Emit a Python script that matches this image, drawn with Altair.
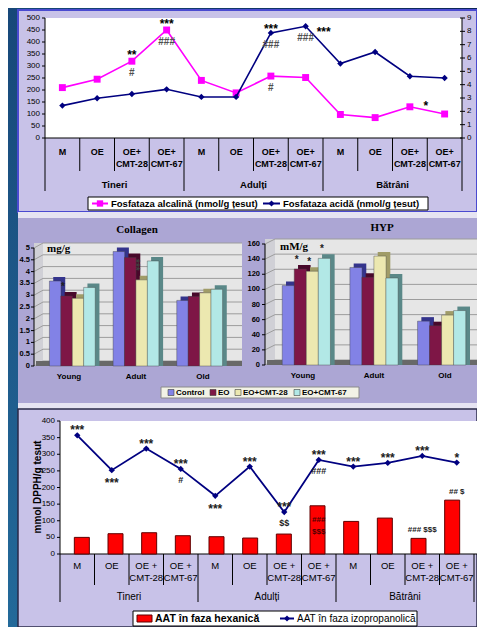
import altair as alt
import pandas as pd

# ================= DATA =================
# Panel 1 - Fosfataza alcalina / acida
top_categories = ["M", "OE", "OE+\nCMT-28", "OE+\nCMT-67"] * 3
top_groups = ["Tineri", "Adulți", "Bătrâni"]
alkaline = [210, 245, 320, 450, 240, 188, 258, 252, 98, 85, 130, 100]
acid = [2.43, 2.98, 3.3, 3.65, 3.08, 3.08, 7.88, 8.38, 5.58, 6.45, 4.63, 4.5]
top_left_ticks = [0, 50, 100, 150, 200, 250, 300, 350, 400, 450, 500]
top_right_ticks = [0, 1, 2, 3, 4, 5, 6, 7, 8, 9]
alk_above = {2: "**", 3: "***"}
alk_below = {2: "#", 3: "###", 6: "#"}
alk_right = {10: "*"}
acid_above = {6: "***"}
acid_below = {6: "###", 7: "###"}
acid_right = {7: "***"}

# Panel 2 - Collagen & HYP
age_groups = ["Young", "Adult", "Old"]
treatments = ["Control", "EO", "EO+CMT-28", "EO+CMT-67"]
collagen_control = [3.6, 4.85, 2.78]
collagen_eo = [2.97, 4.6, 2.95]
collagen_cmt28 = [2.87, 3.65, 3.1]
collagen_cmt67 = [3.33, 4.45, 3.25]
hyp_control = [105, 129, 58]
hyp_eo = [127, 116, 52]
hyp_cmt28 = [124, 144, 66]
hyp_cmt67 = [141, 115, 72]
collagen_ticks = [0, 0.5, 1, 1.5, 2, 2.5, 3, 3.5, 4, 4.5, 5]
hyp_ticks = [0, 20, 40, 60, 80, 100, 120, 140, 160]
collagen_stars = [("Young", "EO", "*")]
collagen_vstars = [("Adult", "EO+CMT-28", "***")]
hyp_stars = [("Young", "EO", "*"), ("Young", "EO+CMT-28", "*"), ("Young", "EO+CMT-67", "*")]

# Panel 3 - AAT
bottom_categories = ["M", "OE", "OE +\nCMT-28", "OE +\nCMT-67"] * 3
aat_hexane = [50, 61, 64, 55, 52, 48, 60, 145, 98, 108, 47, 162]
aat_isoprop = [357, 252, 317, 256, 175, 263, 126, 283, 263, 274, 295, 275]
bottom_ticks = [0, 50, 100, 150, 200, 250, 300, 350, 400]
iso_above = {0: "***", 2: "***", 3: "***", 5: "***", 6: "***", 7: "***",
             8: "***", 9: "***", 10: "***", 11: "*"}
iso_below_stars = {1: "***", 4: "***"}
iso_below_marks = {3: "#", 6: "$$", 7: "###"}
hex_above = {10: "### $$$", 11: "## $"}
hex_inside = {7: "###\n$$$"}

# ================= STYLE / HELPERS =================
W, H = 469, 619
OX = OY = 8
SANS = "Liberation Sans"
SERIF = "Liberation Serif"
PINK = "#ff00ff"
NAVY = "#000080"
ONE = pd.DataFrame({"k": [0]})
FRONT = ["#8282e6", "#7e1646", "#ece8b0", "#b2e8e6"]
SHADE = ["#34348c", "#48082a", "#a09c68", "#5a8888"]


def X(v):
    return v - OX


def Y(v):
    return v - OY


def scale(domain, r0, r1):
    return alt.Scale(domain=domain, range=[r0, r1], nice=False, zero=False)


def qx(f, s):
    return alt.X(f, type="quantitative", scale=s, axis=None)


def qy(f, s):
    return alt.Y(f, type="quantitative", scale=s, axis=None)


def rect(x1, y1, x2, y2, fill, stroke=None, sw=0):
    kw = {"fill": fill, "strokeWidth": sw}
    if stroke:
        kw["stroke"] = stroke
    return alt.Chart(ONE).mark_rect(**kw).encode(
        x=alt.value(X(x1)), x2=alt.value(X(x2)), y=alt.value(Y(y1)), y2=alt.value(Y(y2)))


def seg(x1, y1, x2, y2, color="black", w=1):
    return alt.Chart(ONE).mark_rule(color=color, strokeWidth=w).encode(
        x=alt.value(X(x1)), x2=alt.value(X(x2)), y=alt.value(Y(y1)), y2=alt.value(Y(y2)))


def text(x, y, t, size=9, bold=False, align="center", color="black", font=SANS,
         angle=None, baseline="middle"):
    kw = dict(fontSize=size, fontWeight="bold" if bold else "normal", align=align,
              color=color, font=font, baseline=baseline)
    if angle is not None:
        kw["angle"] = angle
    return alt.Chart(pd.DataFrame({"t": [t]})).mark_text(**kw).encode(
        x=alt.value(X(x)), y=alt.value(Y(y)), text="t:N")


def marker(x, y, shape, color, size):
    return alt.Chart(ONE).mark_point(shape=shape, filled=True, size=size, color=color,
                                     opacity=1).encode(x=alt.value(X(x)), y=alt.value(Y(y)))


def notes(d, values, xs, ys, dy, dx=0, size=12, color="black", baseline="middle", lh=None):
    df = pd.DataFrame({"i": list(d.keys()), "v": [values[k] for k in d], "t": list(d.values())})
    kw = dict(dx=dx, dy=dy, fontSize=size, fontWeight="bold", color=color, font=SANS,
              baseline=baseline, lineBreak="\n")
    if lh:
        kw["lineHeight"] = lh
    return alt.Chart(df).mark_text(**kw).encode(x=qx("i", xs), y=qy("v", ys), text="t:N")


layers = []

# ---------- background ----------
layers.append(alt.Chart(ONE).mark_rect(
    fill={"gradient": "linear", "x1": 0, "y1": 1, "x2": 1, "y2": 0,
          "stops": [{"offset": 0, "color": "#236a9a"}, {"offset": 1, "color": "#0c2658"}]}
).encode(x=alt.value(0), x2=alt.value(W), y=alt.value(0), y2=alt.value(H)))

# ================= PANEL 1 =================
TX = scale([-0.5, 11.5], X(45), X(462))
TYL = scale([0, 500], Y(138), Y(18))
TYR = scale([0, 9], Y(138), Y(18))
top_df = pd.DataFrame({"i": list(range(12)), "cat": top_categories, "alk": alkaline, "acid": acid})

layers.append(rect(18, 10, 477, 212, "#c8c2e8", "#4a4ad0", 2))
layers.append(rect(45, 18, 462, 138, "white"))
layers.append(seg(45, 18, 45, 138))
layers.append(seg(462, 18, 462, 138))
layers.append(seg(45, 138, 462, 138))

tl = pd.DataFrame({"v": top_left_ticks, "lab": [str(v) for v in top_left_ticks]})
tr = pd.DataFrame({"v": top_right_ticks, "lab": [str(v) for v in top_right_ticks]})
layers.append(alt.Chart(tl).mark_rule(color="black").encode(
    x=alt.value(X(42)), x2=alt.value(X(45)), y=qy("v", TYL)))
layers.append(alt.Chart(tl).mark_text(align="right", fontSize=8, font=SANS).encode(
    x=alt.value(X(40)), y=qy("v", TYL), text="lab:N"))
layers.append(alt.Chart(tr).mark_rule(color="black").encode(
    x=alt.value(X(460)), x2=alt.value(X(465)), y=qy("v", TYR)))
layers.append(alt.Chart(tr).mark_text(align="left", fontSize=8, font=SANS).encode(
    x=alt.value(X(467)), y=qy("v", TYR), text="lab:N"))

bounds = pd.DataFrame({"b": [i - 0.5 for i in range(13)], "grp": [i % 4 == 0 for i in range(13)]})
layers.append(alt.Chart(bounds[~bounds.grp]).mark_rule(color="black").encode(
    x=qx("b", TX), y=alt.value(Y(138)), y2=alt.value(Y(171))))
layers.append(alt.Chart(bounds[bounds.grp]).mark_rule(color="black").encode(
    x=qx("b", TX), y=alt.value(Y(138)), y2=alt.value(Y(191))))
layers.append(alt.Chart(top_df).mark_text(lineBreak="\n", baseline="top", fontWeight="bold",
                                          fontSize=9, font=SANS, lineHeight=12).encode(
    x=qx("i", TX), y=alt.value(Y(148)), text="cat:N"))
gdf = pd.DataFrame({"c": [1.5, 5.5, 9.5], "g": top_groups})
layers.append(alt.Chart(gdf).mark_text(fontWeight="bold", fontSize=9.5, font=SANS).encode(
    x=qx("c", TX), y=alt.value(Y(185)), text="g:N"))

layers.append(alt.Chart(top_df).mark_line(color=PINK, strokeWidth=1.6).encode(
    x=qx("i", TX), y=qy("alk", TYL)))
layers.append(alt.Chart(top_df).mark_point(shape="square", filled=True, size=48, color=PINK,
                                           opacity=1).encode(x=qx("i", TX), y=qy("alk", TYL)))
layers.append(alt.Chart(top_df).mark_line(color=NAVY, strokeWidth=1.6).encode(
    x=qx("i", TX), y=qy("acid", TYR)))
layers.append(alt.Chart(top_df).mark_point(shape="diamond", filled=True, size=40, color=NAVY,
                                           opacity=1).encode(x=qx("i", TX), y=qy("acid", TYR)))

layers.append(notes(alk_above, alkaline, TX, TYL, dy=-6))
layers.append(notes(alk_below, alkaline, TX, TYL, dy=12, size=10, color="#505050"))
layers.append(notes(alk_right, alkaline, TX, TYL, dy=-1, dx=16))
layers.append(notes(acid_above, acid, TX, TYR, dy=-4))
layers.append(notes(acid_below, acid, TX, TYR, dy=12, size=10, color="#505050"))
layers.append(notes(acid_right, acid, TX, TYR, dy=6, dx=18))

# legend
layers.append(rect(88, 197, 428, 210, "white", "black", 1))
layers.append(seg(92, 203.5, 108, 203.5, PINK, 2))
layers.append(marker(100, 203.5, "square", PINK, 40))
layers.append(text(111, 204, "Fosfataza alcalină (nmol/g țesut)", 9.5, True, "left"))
layers.append(seg(263, 203.5, 280, 203.5, NAVY, 2))
layers.append(marker(271.5, 203.5, "diamond", NAVY, 36))
layers.append(text(283, 204, "Fosfataza acidă (nmol/g țesut)", 9.5, True, "left"))

# ================= PANEL 2 =================
layers.append(rect(18, 212, 477, 218, "#e6e4f2"))
layers.append(rect(18, 218, 477, 403, "#aca6d4"))
layers.append(rect(18, 403, 477, 409, "#e6e4f2"))


def bar_panel(series, ticks, y0, ytop, cx, bar_w, ax_x, wall_x, right_x, lab_x,
              title, title_xy, unit, unit_xy, stars, vstars, depth=5):
    L = []
    ys = scale([ticks[0], ticks[-1]], Y(y0), Y(ytop))
    sp = (cx[-1] - cx[0]) / 2.0
    xs = scale([-0.5, 2.5], X(cx[0] - sp / 2), X(cx[-1] + sp / 2))
    bw = bar_w / sp
    upp = (ticks[-1] - ticks[0]) / float(y0 - ytop)   # data units per pixel
    dep = depth * upp
    L.append(rect(ax_x, ytop - depth, wall_x, y0, "#d0d0d6"))
    L.append(rect(wall_x, ytop - depth, right_x, y0 - depth, "#e6e6e6"))
    tdf = pd.DataFrame({"v": ticks, "lab": [f"{t:g}" for t in ticks]})
    L.append(alt.Chart(tdf).mark_rule(color="#9c9c9c", yOffset=-depth).encode(
        x=alt.value(X(wall_x)), x2=alt.value(X(right_x)), y=qy("v", ys)))
    L.append(alt.Chart(tdf).transform_calculate(v2=f"datum.v + {dep}").mark_rule(
        color="#9c9c9c").encode(x=alt.value(X(ax_x)), x2=alt.value(X(wall_x)),
                                y=qy("v", ys), y2="v2:Q"))
    L.append(rect(ax_x + 2, y0 - depth, right_x, y0, "#686868"))
    L.append(seg(ax_x, ytop, ax_x, y0))
    L.append(alt.Chart(tdf).mark_rule(color="black").encode(
        x=alt.value(X(ax_x - 3)), x2=alt.value(X(ax_x)), y=qy("v", ys)))
    L.append(alt.Chart(tdf).mark_text(align="right", fontSize=7.5, fontWeight="bold",
                                      font=SANS).encode(
        x=alt.value(X(lab_x)), y=qy("v", ys), text="lab:N"))
    rows = []
    for si, vals in enumerate(series):
        for gi, v in enumerate(vals):
            rows.append({"g": gi, "s": si, "v": v})
    bdf = pd.DataFrame(rows)
    calc = f"datum.g + (datum.s - 1.5) * {bw}"
    L.append(alt.Chart(bdf).transform_calculate(xp=calc).mark_bar(
        orient="vertical", size=bar_w, xOffset=4, yOffset=-4).encode(
        x=qx("xp", xs), y=qy("v", ys), y2=alt.datum(0),
        color=alt.Color("s:N", scale=alt.Scale(domain=[0, 1, 2, 3], range=SHADE), legend=None)))
    L.append(alt.Chart(bdf).transform_calculate(xp=calc).mark_bar(
        orient="vertical", size=bar_w - 0.4, stroke="#404040", strokeWidth=0.4).encode(
        x=qx("xp", xs), y=qy("v", ys), y2=alt.datum(0),
        color=alt.Color("s:N", scale=alt.Scale(domain=[0, 1, 2, 3], range=FRONT), legend=None)))
    cdf = pd.DataFrame({"g": [0, 1, 2], "n": age_groups})
    L.append(alt.Chart(cdf).mark_text(fontSize=8, fontWeight="bold", font=SANS).encode(
        x=qx("g", xs), y=alt.value(Y(y0 + 11)), text="n:N"))

    def star_df(lst):
        return pd.DataFrame({
            "g": [age_groups.index(a) for a, b, c in lst],
            "s": [treatments.index(b) for a, b, c in lst],
            "v": [series[treatments.index(b)][age_groups.index(a)] for a, b, c in lst],
            "t": [c for a, b, c in lst]})
    if stars:
        L.append(alt.Chart(star_df(stars)).transform_calculate(xp=calc).mark_text(
            fontSize=10, fontWeight="bold", font=SANS, dy=-9, color="#202020").encode(
            x=qx("xp", xs), y=qy("v", ys), text="t:N"))
    if vstars:
        L.append(alt.Chart(star_df(vstars)).transform_calculate(
            xp=f"{calc} - {0.62 * bw}", vq=f"datum.v + {15 * upp}").mark_text(
            fontSize=10, fontWeight="bold", font=SANS, angle=90, color="#404040").encode(
            x=qx("xp", xs), y=qy("vq", ys), text="t:N"))
    L.append(text(title_xy[0], title_xy[1], title, 11, True, font=SERIF))
    L.append(text(unit_xy[0], unit_xy[1], unit, 11, True, "left", font=SERIF))
    return L


layers += bar_panel([collagen_control, collagen_eo, collagen_cmt28, collagen_cmt67],
                    collagen_ticks, 366, 248, [69, 136, 203], 12, 34, 43, 242, 30,
                    "Collagen", (137, 230), "mg/g", (47, 249), collagen_stars, collagen_vstars)
layers += bar_panel([hyp_control, hyp_eo, hyp_cmt28, hyp_cmt67],
                    hyp_ticks, 365, 244, [303, 374, 445], 12.6, 265, 275, 477, 260,
                    "HYP", (382, 228), "mM/g", (280, 247), hyp_stars, [])

# legend (middle)
layers.append(rect(161, 387, 359, 398, "#f2f2e6", "#8a8a8a", 1))
leg_sq = [168, 210, 235, 294]
for k, name in enumerate(treatments):
    layers.append(rect(leg_sq[k], 389.5, leg_sq[k] + 6, 395.5, FRONT[k], "#404040", 0.6))
    layers.append(text(leg_sq[k] + 8, 393, name, 8, True, "left"))

# ================= PANEL 3 =================
BX = scale([-0.5, 11.5], X(60), X(474))
BY = scale([0, 400], Y(554), Y(421))
bot_df = pd.DataFrame({"i": list(range(12)), "cat": bottom_categories,
                       "hex": aat_hexane, "iso": aat_isoprop})
layers.append(rect(18, 409, 477, 627, "#c8c2e8", "#2a2a48", 1.5))
layers.append(rect(60, 421, 477, 554, "white"))
layers.append(seg(60, 421, 60, 554))
layers.append(seg(60, 554, 477, 554))
bt = pd.DataFrame({"v": bottom_ticks, "lab": [str(v) for v in bottom_ticks]})
layers.append(alt.Chart(bt).mark_rule(color="black").encode(
    x=alt.value(X(57)), x2=alt.value(X(60)), y=qy("v", BY)))
layers.append(alt.Chart(bt).mark_text(align="right", fontSize=8, font=SANS).encode(
    x=alt.value(X(55)), y=qy("v", BY), text="lab:N"))
layers.append(text(38, 487, "mmol DPPH/g tesut", 10, True, angle=270))

layers.append(alt.Chart(bounds[~bounds.grp]).mark_rule(color="black").encode(
    x=qx("b", BX), y=alt.value(Y(554)), y2=alt.value(Y(585))))
layers.append(alt.Chart(bounds[bounds.grp]).mark_rule(color="black").encode(
    x=qx("b", BX), y=alt.value(Y(554)), y2=alt.value(Y(602))))
layers.append(alt.Chart(bot_df).mark_text(lineBreak="\n", baseline="top", fontSize=9.5,
                                          font=SANS, lineHeight=12).encode(
    x=qx("i", BX), y=alt.value(Y(561)), text="cat:N"))
layers.append(alt.Chart(gdf).mark_text(fontSize=10, font=SANS).encode(
    x=qx("c", BX), y=alt.value(Y(597)), text="g:N"))

layers.append(alt.Chart(bot_df).mark_bar(orient="vertical", size=15, color="#ff0000",
                                         stroke="#600000", strokeWidth=1).encode(
    x=qx("i", BX), y=qy("hex", BY), y2=alt.datum(0)))
layers.append(alt.Chart(bot_df).mark_line(color=NAVY, strokeWidth=1.8).encode(
    x=qx("i", BX), y=qy("iso", BY)))
layers.append(alt.Chart(bot_df).mark_point(shape="diamond", filled=True, size=40, color=NAVY,
                                           opacity=1).encode(x=qx("i", BX), y=qy("iso", BY)))
layers.append(notes(iso_above, aat_isoprop, BX, BY, dy=-5, size=12, color="#202020"))
layers.append(notes(iso_below_stars, aat_isoprop, BX, BY, dy=13, size=12, color="#202020"))
layers.append(notes(iso_below_marks, aat_isoprop, BX, BY, dy=11, size=9, color="#202020"))
layers.append(notes(hex_above, aat_hexane, BX, BY, dy=-8, size=8, color="#202020"))
layers.append(notes(hex_inside, aat_hexane, BX, BY, dy=10, size=8, color="#500000",
                    baseline="top", lh=12))

# legend (bottom)
layers.append(rect(133, 611, 417, 626, "white", "black", 1))
layers.append(rect(137, 615, 152, 622, "#ff0000", "#600000", 1))
layers.append(text(155, 619, "AAT în faza hexanică", 10.5, True, "left"))
layers.append(seg(280, 618.5, 294, 618.5, NAVY, 2))
layers.append(marker(287, 618.5, "diamond", NAVY, 36))
layers.append(text(297, 619, "AAT în faza izopropanolică", 10, False, "left"))

chart = alt.layer(*layers).resolve_scale(
    x="independent", y="independent", color="independent"
).properties(
    width=W, height=H, padding=0, background="#1a4a7a",
    autosize=alt.AutoSizeParams(type="none")
).configure_view(strokeWidth=0)

chart.save("out.html", embed_options={"renderer": "svg", "actions": False})
